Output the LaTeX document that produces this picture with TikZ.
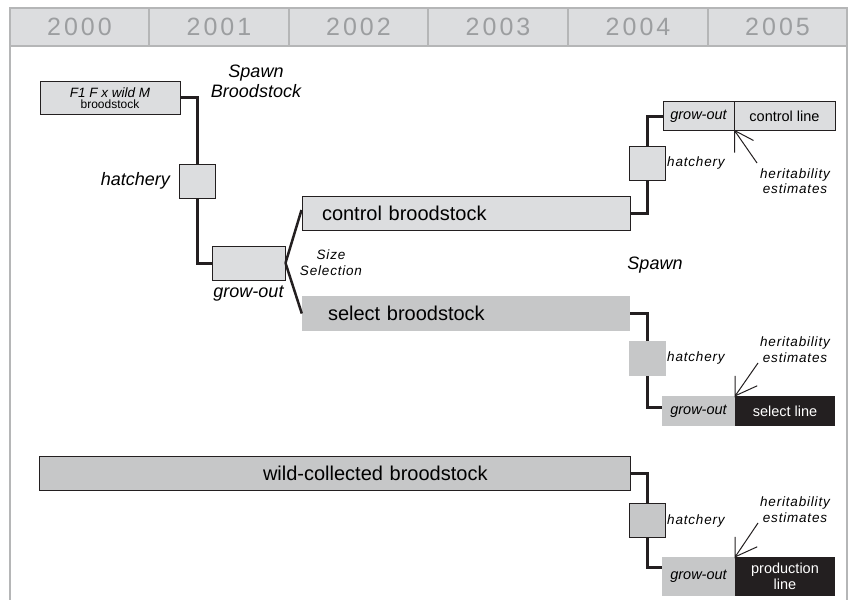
\documentclass[tikz,border=0pt]{standalone}
\usepackage{fontspec}
\setmainfont{Liberation Sans}
\definecolor{lg}{HTML}{DCDDDF}
\definecolor{mg}{HTML}{C6C7C8}
\definecolor{blk}{HTML}{231F20}
\definecolor{hdr}{HTML}{B5B6B7}
\definecolor{yr}{HTML}{9C9EA0}
\begin{document}
\begin{tikzpicture}[x=1pt,y=-1pt,
  lbox/.style={draw=blk,line width=1pt,fill=lg,inner sep=0pt},
  mbox/.style={draw=blk,line width=1pt,fill=mg,inner sep=0pt},
  mfill/.style={fill=mg,inner sep=0pt},
  kfill/.style={fill=blk,text=white,inner sep=0pt},
  conn/.style={draw=blk,line width=3pt},
  thin/.style={draw=blk,line width=1pt},
  big/.style={font=\fontsize{20}{24}\selectfont},
  mid/.style={font=\fontsize{14.5}{16}\selectfont},
  lab/.style={font=\fontsize{18}{20}\selectfont\itshape,align=center,inner sep=0pt},
  smlab/.style={font=\fontsize{13.5}{15.5}\selectfont\itshape\addfontfeature{LetterSpace=6},align=center,inner sep=0pt},
  yeartxt/.style={font=\fontsize{25}{28}\selectfont\addfontfeature{LetterSpace=12},text=yr}
]
\useasboundingbox (0,0) rectangle (850,599);
% header
\fill[lg] (10,8) rectangle (847,46);
\draw[hdr,line width=2.2pt] (10,8) rectangle (847,46);
\foreach \x in {149,289,428,568,708} \draw[hdr,line width=2.2pt] (\x,8) -- (\x,46);
\draw[hdr,line width=2.2pt] (10,46) -- (10,605);
\draw[hdr,line width=2.2pt] (847,46) -- (847,605);
\foreach \y/\c in {2000/79.5,2001/219,2002/358.5,2003/498,2004/638,2005/777.5}
  \node[yeartxt] (y\y) at (\c,27) {\y};

% top lineage
\node[lbox,minimum width=140,minimum height=33,align=center] (f1) at (110,98)
  {{\fontsize{13.5}{14}\selectfont\itshape F1 F x wild M}\\[-1pt]{\fontsize{12}{13}\selectfont broodstock}};
\node[lab] (spawnb) at (256,81) {Spawn\\Broodstock};
\node[lbox,minimum width=36,minimum height=34] (hat1) at (197,181) {};
\node[lab,anchor=east] (hat1l) at (170,181) {hatchery};
\node[lbox,minimum width=73,minimum height=34] (go1) at (248.5,263) {};
\node[lab] (go1l) at (248.5,294) {grow-out};
\node[smlab] (sizes) at (331,262.5) {Size\\Selection};
\draw[conn] (f1.east) -| (hat1.north);
\draw[conn] (hat1.south) |- (go1.west);

% control broodstock
\node[lbox,big,minimum width=328,minimum height=34,text width=288,align=left,inner xsep=20pt] (ctrl) at (466,213) {control broodstock};
\node[mfill,big,minimum width=328,minimum height=35,text width=276,align=left,inner xsep=26pt] (sel) at (466,313.5) {select broodstock};
\draw[conn,line width=2.5pt] (go1.east) -- ([yshift=3pt]ctrl.west);
\draw[conn,line width=2.5pt] (go1.east) -- (sel.west);

% control line
\node[lbox,minimum width=36,minimum height=34] (hat2) at (647,163) {};
\node[smlab,anchor=west] (hat2l) at (667,163) {hatchery};
\node[lbox,mid,minimum width=71,minimum height=28] (cgo) at (698.5,116) {\itshape grow-out};
\node[lbox,mid,minimum width=101,minimum height=28] (cline) at (784.5,116) {control line};
\draw[conn] (ctrl.east) -| (hat2.south);
\draw[conn] (hat2.north) |- (cgo.west);
\coordinate (t1) at (cgo.south east);
\coordinate (s1) at (757,163);
\draw[thin] (s1) -- (t1) -- ++(0,22);
\draw[thin] (t1) -- ++(19,10);
\node[smlab] (her1) at (795,181) {heritability\\estimates};

\node[lab] (spawn2) at (655,265) {Spawn};

% select line
\node[mfill,minimum width=37,minimum height=35] (hat3) at (647.5,358.5) {};
\node[smlab,anchor=west] (hat3l) at (667,358) {hatchery};
\node[mfill,mid,minimum width=73,minimum height=30] (sgo) at (698.5,411) {\itshape grow-out};
\node[kfill,mid,minimum width=100,minimum height=30] (sline) at (785,411) {select line};
\draw[conn] (sel.east) -| (hat3.north);
\draw[conn] (hat3.south) |- ([yshift=4pt]sgo.west);
\coordinate (t2) at (sgo.north east);
\coordinate (s2) at (758,363);
\draw[thin] (s2) -- (t2) -- ++(0,-20);
\draw[thin] (t2) -- ++(22,-10);
\node[smlab] (her2) at (795,349.5) {heritability\\estimates};

% wild line
\node[mbox,big,minimum width=591,minimum height=34,text width=589,align=left,inner xsep=1pt] (wild) at (334.5,473) {\hspace*{223pt}wild-collected broodstock};
\node[mbox,minimum width=36,minimum height=34] (hat4) at (647,520) {};
\node[smlab,anchor=west] (hat4l) at (667,521) {hatchery};
\node[mfill,mid,minimum width=73,minimum height=39] (pgo) at (698.5,576.5) {\itshape grow-out};
\node[kfill,mid,minimum width=100,minimum height=39,align=center] (pline) at (785,576.5) {production\\line};
\draw[conn] (wild.east) -| (hat4.north);
\draw[conn] (hat4.south) |- ([yshift=9pt]pgo.west);
\coordinate (t3) at (pgo.north east);
\coordinate (s3) at (758,523);
\draw[thin] (s3) -- (t3) -- ++(0,-20);
\draw[thin] (t3) -- ++(22,-10);
\node[smlab] (her3) at (795,509.5) {heritability\\estimates};
\end{tikzpicture}
\end{document}
